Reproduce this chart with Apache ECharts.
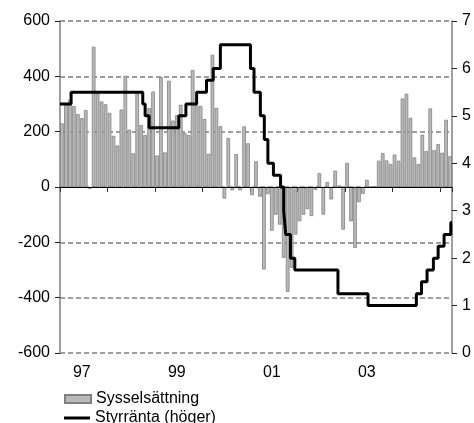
<!DOCTYPE html>
<html>
<head>
<meta charset="utf-8">
<script src="https://cdn.jsdelivr.net/npm/echarts@6/dist/echarts.min.js"></script>
<style>
html,body{margin:0;padding:0;background:#fff;}
#chart{width:474px;height:423px;}
</style>
</head>
<body>
<div id="chart"></div>
<script>
// ---- Data ----
// Monthly categories: Jan 1997 .. Mar 2005 (99 months)
const startYear = 1997;
const monthCount = 99;
const categories = [];
for (let i = 0; i < monthCount; i++) {
  const y = startYear + Math.floor(i / 12);
  const m = (i % 12) + 1;
  categories.push(y + '-' + (m < 10 ? '0' + m : m));
}

// Sysselsättning (monthly change, thousands)
const employment = [
  230, 298, 316, 293, 264, 249, 278, -7, 507, 337, 309, 299,
  268, 185, 150, 280, 402, 207, 122, 345, 224, 188, 285, 345,
  114, 397, 125, 384, 240, 259, 297, 195, 188, 423, 295, 293,
  246, 120, 478, 286, 220, -42, 177, -12, 119, -12, 219, 158,
  -30, 93, -35, -298, -26, -158, -100, -136, -256, -379, -292, -172,
  -124, -100, -80, -105, -10, 50, -100, 18, -45, 59, 6, -154,
  87, -124, -220, -55, -25, 26, 2, 2, 95, 123, 96, 83,
  117, 95, 320, 337, 250, 107, 83, 189, 130, 284, 133, 155,
  124, 243, 111
];

// Styrränta (höger): month position (from Jan 1997 = 0) where each level starts
const rateStart = [0, 2.8, 20.9, 21.5, 22.5, 30.0, 31.8, 34.5, 37.0, 38.7, 40.5,
  48.1, 49.0, 50.6, 51.6, 52.5, 53.9, 55.7, 56.5, 57.0, 58.2, 59.3,
  70.2, 77.8, 90.0, 91.3, 92.7, 94.3, 95.5, 97.0, 98.7, 99];
const rateLevel = [5.25, 5.5, 5.25, 5.0, 4.75, 5.0, 5.25, 5.5, 5.75, 6.0, 6.5,
  6.0, 5.5, 5.0, 4.5, 4.0, 3.75, 3.5, 3.0, 2.5, 2.0, 1.75,
  1.25, 1.0, 1.25, 1.5, 1.75, 2.0, 2.25, 2.5, 2.75, 2.75];

const leftTicks = { min: -600, max: 600, interval: 200 };
const rightTicks = { min: 0, max: 7, interval: 1 };
const seriesNames = ['Sysselsättning', 'Styrränta (höger)'];

// ---- Chart ----
const FONT = '"Liberation Sans", Arial, sans-serif';
const chart = echarts.init(document.getElementById('chart'), null, { renderer: 'canvas' });

const ratePoints = rateStart.map((x, i) => [x, rateLevel[i]]);

const legendText = { fontSize: 16, color: '#000', fontFamily: FONT };

chart.setOption({
  animation: false,
  textStyle: { fontFamily: FONT },
  grid: { left: 60, right: 22, top: 21, bottom: 70, containLabel: false },
  legend: [
    {
      orient: 'vertical',
      left: 59,
      top: 391,
      padding: [0, 5, 0, 5],
      itemWidth: 26,
      itemHeight: 8,
      itemGap: 6,
      textStyle: legendText,
      data: [{ name: seriesNames[0], icon: 'rect' }]
    },
    {
      orient: 'vertical',
      left: 59,
      top: 410,
      padding: [0, 5, 0, 5],
      itemWidth: 26,
      itemHeight: 3,
      itemGap: 6,
      textStyle: legendText,
      itemStyle: { color: '#000', borderWidth: 0 },
      data: [{ name: seriesNames[1], icon: 'rect' }]
    }
  ],
  xAxis: [
    {
      type: 'category',
      data: categories,
      boundaryGap: true,
      axisLine: { show: false },
      axisTick: {
        show: true,
        length: 5,
        interval: (idx) => idx % 12 === 0,
        lineStyle: { color: '#333', width: 1 }
      },
      axisLabel: {
        interval: (idx) => idx % 24 === 5,
        formatter: (v) => v.slice(2, 4),
        fontSize: 16,
        color: '#000',
        margin: 12,
        fontFamily: FONT
      },
      splitLine: { show: false }
    },
    {
      type: 'value',
      min: 0,
      max: monthCount,
      show: false
    }
  ],
  yAxis: [
    {
      type: 'value',
      min: leftTicks.min,
      max: leftTicks.max,
      interval: leftTicks.interval,
      axisLine: { show: true, lineStyle: { color: '#808080', width: 1.5 } },
      axisTick: { show: true, inside: false, length: 5, lineStyle: { color: '#222', width: 1 } },
      axisLabel: { fontSize: 16, color: '#000', margin: 10, fontFamily: FONT },
      splitLine: { show: true, lineStyle: { color: '#808080', width: 1.5, type: [5, 3] } }
    },
    {
      type: 'value',
      min: rightTicks.min,
      max: rightTicks.max,
      interval: rightTicks.interval,
      position: 'right',
      axisLine: { show: true, lineStyle: { color: '#808080', width: 1.5 } },
      axisTick: { show: true, inside: false, length: 5, lineStyle: { color: '#222', width: 1 } },
      axisLabel: { fontSize: 16, color: '#000', margin: 10, fontFamily: FONT },
      splitLine: { show: false }
    }
  ],
  series: [
    {
      name: seriesNames[0],
      type: 'bar',
      xAxisIndex: 0,
      yAxisIndex: 0,
      data: employment,
      barCategoryGap: '8%',
      itemStyle: { color: '#bababa', borderColor: '#808080', borderWidth: 0.8 },
      markLine: {
        silent: true,
        symbol: 'none',
        label: { show: false },
        lineStyle: { color: '#000', width: 1, type: 'solid' },
        data: [{ yAxis: 0 }],
        animation: false
      },
      z: 2
    },
    {
      name: seriesNames[1],
      type: 'line',
      xAxisIndex: 1,
      yAxisIndex: 1,
      data: ratePoints,
      step: 'end',
      symbol: 'none',
      showSymbol: false,
      lineStyle: { color: '#000', width: 3 },
      itemStyle: { color: '#000' },
      z: 5
    }
  ]
});
</script>
</body>
</html>
